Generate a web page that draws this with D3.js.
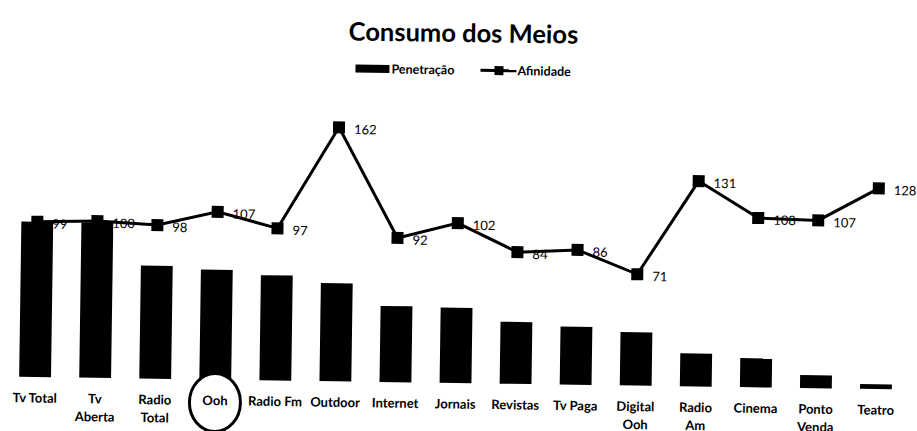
<!DOCTYPE html>
<html lang="en">
<head>
    <meta charset="UTF-8">
    <title>Consumo dos Meios</title>
    <style>
        body { margin: 0; background: #fff; }
        svg { display: block; }
        .title { font-family: Lato, sans-serif; font-weight: bold; font-size: 25.5px; fill: #000; }
        .legendText { font-family: Lato, sans-serif; font-weight: bold; font-size: 12.5px; fill: #000; }
        .catLabel { font-family: Lato, sans-serif; font-weight: bold; font-size: 13px; fill: #000; }
        .valLabel { font-family: Lato, sans-serif; font-size: 13px; fill: #000; }
        .afLine { fill: none; stroke: #000; stroke-width: 3px; }
    </style>
    <script src="https://cdn.jsdelivr.net/npm/d3@7"></script>
</head>
<body>
<script>
    // data
    const categories = ["Tv Total", "Tv Aberta", "Radio Total", "Ooh", "Radio Fm", "Outdoor", "Internet", "Jornais",
        "Revistas", "Tv Paga", "Digital Ooh", "Radio Am", "Cinema", "Ponto Venda", "Teatro"];
    const penetracao = [99, 99, 72, 70, 67, 62.5, 48.5, 48, 39.5, 37, 34, 21, 18.5, 8.3, 3];
    const afinidade = [99, 100, 98, 107, 97, 162, 92, 102, 84, 86, 71, 131, 108, 107, 128];
    const highlighted = "Ooh";

    const width = 917, height = 431;
    const baseY = 383;

    const svg = d3.select("body").append("svg")
        .attr("width", width)
        .attr("height", height);

    // the original is a slightly tilted scan
    const page = svg.append("g").attr("transform", `rotate(0.82, 455, ${baseY})`);

    const x = d3.scaleBand()
        .domain(categories)
        .range([5, 906])
        .paddingInner(0.47)
        .paddingOuter(0.235);

    const y = d3.scaleLinear()
        .domain([0, 180])
        .range([baseY, baseY - 180 * 1.568]);

    /* ---------- title and legend ---------- */
    page.append("text")
        .attr("class", "title")
        .attr("x", width / 2)
        .attr("y", 42)
        .attr("text-anchor", "middle")
        .text("Consumo dos Meios");

    const legend = page.append("g").attr("transform", "translate(351,70)");
    legend.append("rect")
        .attr("x", 0).attr("y", -4)
        .attr("width", 34).attr("height", 8)
        .attr("fill", "#000");
    legend.append("text")
        .attr("class", "legendText")
        .attr("x", 36).attr("dy", "0.35em")
        .text("Penetração");
    legend.append("line")
        .attr("x1", 125).attr("x2", 161)
        .attr("stroke", "#000").attr("stroke-width", 3);
    legend.append("rect")
        .attr("x", 139).attr("y", -4.5)
        .attr("width", 9).attr("height", 9)
        .attr("fill", "#000");
    legend.append("text")
        .attr("class", "legendText")
        .attr("x", 162).attr("dy", "0.35em")
        .text("Afinidade");

    /* ---------- bars ---------- */
    page.append("g")
        .selectAll("rect")
        .data(categories)
        .enter()
        .append("rect")
        .attr("x", d => x(d))
        .attr("width", x.bandwidth())
        .attr("y", (d, i) => y(penetracao[i]))
        .attr("height", (d, i) => baseY - y(penetracao[i]))
        .attr("fill", "#000");

    /* ---------- circle round the highlighted category ---------- */
    page.append("ellipse")
        .attr("cx", x(highlighted) + x.bandwidth() / 2)
        .attr("cy", baseY + 23)
        .attr("rx", 25.5)
        .attr("ry", 29)
        .attr("fill", "#fff")
        .attr("stroke", "#000")
        .attr("stroke-width", 3);

    /* ---------- category labels ---------- */
    const labels = page.append("g")
        .selectAll("text")
        .data(categories)
        .enter()
        .append("text")
        .attr("class", "catLabel")
        .attr("text-anchor", "middle")
        .attr("transform", d => `translate(${x(d) + x.bandwidth() / 2},${baseY + 21})`);
    // names that wrap onto two lines in the original
    const oneLine = ["Tv Total", "Radio Fm", "Outdoor", "Internet", "Jornais", "Revistas", "Tv Paga", "Cinema", "Teatro", "Ooh"];
    labels.each(function (d) {
        const words = oneLine.includes(d) ? [d] : d.split(" ");
        d3.select(this).selectAll("tspan")
            .data(words)
            .enter()
            .append("tspan")
            .attr("x", 0)
            .attr("y", (w, i) => i * 18)
            .attr("dy", "0.35em")
            .text(w => w);
    });

    /* ---------- afinidade line ---------- */
    const cx = d => x(d) + x.bandwidth() / 2;

    // labels first: in the original the line runs over some of them
    page.append("g")
        .selectAll("text")
        .data(categories)
        .enter()
        .append("text")
        .attr("class", "valLabel")
        .attr("x", d => cx(d) + 15)
        .attr("y", (d, i) => y(afinidade[i]) + 2)
        .attr("dy", "0.35em")
        .text((d, i) => afinidade[i]);

    const line = d3.line()
        .x(d => cx(d))
        .y((d, i) => y(afinidade[i]));

    page.append("path")
        .datum(categories)
        .attr("class", "afLine")
        .attr("d", line);

    page.append("g")
        .selectAll("rect")
        .data(categories)
        .enter()
        .append("rect")
        .attr("x", d => cx(d) - 6)
        .attr("y", (d, i) => y(afinidade[i]) - 6)
        .attr("width", 12)
        .attr("height", 12)
        .attr("fill", "#000");
</script>
</body>
</html>
